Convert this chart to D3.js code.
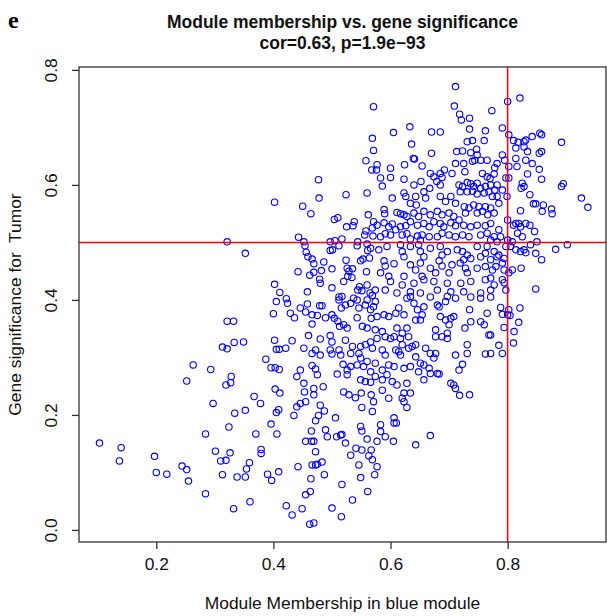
<!DOCTYPE html>
<html><head><meta charset="utf-8">
<script src="https://cdn.jsdelivr.net/npm/d3@7"></script>
<style>body{margin:0;background:#fff}</style>
</head><body>
<script>
const panelLabel = "e";
const titleLines = ["Module membership vs. gene significance", "cor=0.63, p=1.9e\u221293"];
const xTitle = "Module Membership in blue module";
const yTitle = "Gene significance for  Tumor";
const xTicks = [0.2, 0.4, 0.6, 0.8];
const yTicks = [0.0, 0.2, 0.4, 0.6, 0.8];
const xTickLabels = ["0.2", "0.4", "0.6", "0.8"];
const yTickLabels = ["0.0", "0.2", "0.4", "0.6", "0.8"];
const mmThreshold = [0.8];
const gsThreshold = [0.5];
const xLimits = [0.068, 0.968];
const yLimits = [-0.021, 0.805];

// [module membership, gene significance]
const genes = [
[0.402,0.427],[0.411,0.413],[0.405,0.397],[0.400,0.376],[0.321,0.363],[0.332,0.363],[0.402,0.330],[0.349,0.327],[0.333,0.326],[0.313,0.318],[0.321,0.315],[0.405,0.314],[0.410,0.314],[0.387,0.297],[0.263,0.287],[0.293,0.279],[0.396,0.282],[0.403,0.282],[0.410,0.279],[0.328,0.267],[0.327,0.256],[0.319,0.252],[0.252,0.259],[0.403,0.245],[0.411,0.238],[0.367,0.232],[0.378,0.220],[0.297,0.220],[0.334,0.203],[0.352,0.208],[0.405,0.204],[0.409,0.209],[0.324,0.179],[0.396,0.184],[0.284,0.167],[0.370,0.167],[0.406,0.167],[0.103,0.151],[0.140,0.143],[0.137,0.120],[0.197,0.128],[0.200,0.100],[0.218,0.097],[0.244,0.111],[0.252,0.105],[0.255,0.085],[0.284,0.063],[0.301,0.137],[0.310,0.120],[0.319,0.121],[0.326,0.134],[0.379,0.140],[0.379,0.133],[0.359,0.117],[0.354,0.106],[0.313,0.096],[0.338,0.092],[0.352,0.092],[0.390,0.097],[0.397,0.086],[0.409,0.101],[0.360,0.049],[0.332,0.037],
[0.422,0.402],[0.424,0.394],[0.429,0.377],[0.436,0.369],[0.446,0.386],[0.455,0.379],[0.458,0.393],[0.466,0.374],[0.479,0.390],[0.483,0.390],[0.466,0.358],[0.475,0.373],
[0.489,0.369],[0.500,0.374],[0.504,0.368],[0.510,0.363],[0.513,0.354],[0.520,0.357],[0.526,0.351],[0.516,0.386],[0.512,0.400],[0.523,0.391],[0.532,0.394],[0.543,0.400],[0.546,0.386],[0.543,0.369],[0.557,0.391],[0.560,0.400],[0.566,0.383],[0.567,0.368],
[0.552,0.354],[0.560,0.351],[0.460,0.338],[0.480,0.332],[0.497,0.338],[0.500,0.327],[0.523,0.330],[0.432,0.329],[0.421,0.316],
[0.452,0.316],[0.466,0.307],[0.472,0.313],[0.480,0.304],[0.497,0.313],[0.500,0.306],[0.512,0.313],[0.515,0.304],[0.535,0.319],[0.532,0.307],[0.546,0.307],[0.549,0.319],[0.557,0.322],[0.566,0.327],[0.569,0.316],
[0.446,0.278],[0.440,0.267],[0.452,0.255],[0.466,0.286],[0.472,0.280],[0.475,0.270],[0.485,0.249],[0.453,0.240],[0.469,0.235],
[0.509,0.271],[0.519,0.288],[0.526,0.278],[0.526,0.270],[0.532,0.284],[0.543,0.287],[0.549,0.299],[0.554,0.284],[0.560,0.293],[0.566,0.275],[0.549,0.261],[0.557,0.258],[0.566,0.257],
[0.520,0.240],[0.529,0.235],[0.540,0.230],[0.550,0.238],[0.551,0.213],[0.567,0.235],[0.569,0.206],
[0.435,0.199],[0.440,0.214],[0.446,0.220],[0.455,0.223],[0.469,0.246],[0.480,0.217],[0.487,0.207],[0.477,0.199],[0.472,0.190],
[0.465,0.172],[0.465,0.154],[0.455,0.154],[0.469,0.154],[0.489,0.174],[0.492,0.162],[0.506,0.195],[0.508,0.162],[0.515,0.165],[0.517,0.166],[0.523,0.151],[0.549,0.180],[0.551,0.172],[0.560,0.158],[0.541,0.142],[0.551,0.139],[0.567,0.139],[0.532,0.130],
[0.472,0.136],[0.466,0.113],[0.472,0.113],[0.475,0.114],[0.483,0.118],[0.487,0.096],[0.442,0.110],[0.464,0.089],[0.563,0.129],[0.546,0.113],[0.549,0.091],[0.573,0.096],[0.517,0.079],
[0.455,0.061],[0.463,0.067],[0.561,0.067],[0.535,0.052],[0.422,0.042],[0.432,0.026],[0.449,0.037],[0.500,0.038],[0.516,0.023],[0.462,0.010],[0.469,0.012],
[0.571,0.736],[0.569,0.681],[0.571,0.660],[0.558,0.642],[0.568,0.626],[0.477,0.609],[0.478,0.577],[0.524,0.583],[0.560,0.586],[0.402,0.570],[0.450,0.563],[0.464,0.550],[0.562,0.548],[0.504,0.540],[0.510,0.543],[0.525,0.527],[0.538,0.536],[0.536,0.529],[0.558,0.520],[0.556,0.513],[0.569,0.525],[0.570,0.511],[0.443,0.509],[0.452,0.501],[0.454,0.494],[0.497,0.501],[0.505,0.503],[0.517,0.506],[0.512,0.494],[0.501,0.487],[0.497,0.486],[0.544,0.501],[0.543,0.494],[0.560,0.497],[0.561,0.486],[0.566,0.490],[0.564,0.473],[0.456,0.483],[0.459,0.475],[0.466,0.471],[0.469,0.463],[0.486,0.466],[0.442,0.449],[0.462,0.443],[0.469,0.448],[0.482,0.451],[0.500,0.454],[0.524,0.469],[0.526,0.455],[0.529,0.450],[0.535,0.454],[0.549,0.468],[0.553,0.471],[0.559,0.449],[0.479,0.436],[0.480,0.429],[0.520,0.432],[0.527,0.441],[0.534,0.439],[0.458,0.414],[0.500,0.421],[0.544,0.417],[0.547,0.423],[0.551,0.416],[0.560,0.426],[0.565,0.412],[0.512,0.405],[0.517,0.406],[0.537,0.403],[0.569,0.408],
[0.711,0.771],[0.709,0.737],[0.718,0.723],[0.721,0.713],[0.735,0.716],[0.773,0.729],
[0.633,0.701],[0.605,0.691],[0.670,0.692],[0.685,0.692],[0.735,0.697],[0.762,0.694],
[0.636,0.671],[0.670,0.655],[0.731,0.675],[0.740,0.677],[0.760,0.677],
[0.713,0.658],[0.723,0.659],[0.737,0.656],[0.747,0.662],[0.748,0.652],[0.740,0.641],[0.744,0.643],[0.754,0.643],[0.765,0.643],
[0.639,0.646],[0.641,0.645],[0.624,0.635],[0.577,0.635],[0.576,0.626],[0.600,0.629],[0.654,0.633],[0.668,0.620],[0.685,0.620],[0.692,0.626],[0.705,0.620],[0.711,0.637],[0.725,0.637],[0.727,0.623],
[0.583,0.612],[0.586,0.598],[0.600,0.613],[0.623,0.610],[0.640,0.600],[0.652,0.606],[0.674,0.614],[0.679,0.606],[0.688,0.613],[0.685,0.600],[0.757,0.620],[0.765,0.614],[0.770,0.611],[0.777,0.619],
[0.717,0.600],[0.723,0.597],[0.731,0.604],[0.737,0.602],[0.742,0.597],[0.748,0.603],[0.754,0.594],[0.762,0.597],[0.771,0.600],[0.719,0.588],[0.731,0.588],[0.740,0.589],[0.748,0.584],[0.760,0.586],[0.768,0.588],[0.778,0.591],
[0.623,0.586],[0.626,0.580],[0.643,0.580],[0.657,0.588],[0.667,0.594],[0.660,0.577],[0.634,0.568],[0.644,0.565],[0.703,0.580],[0.685,0.580],[0.694,0.571],[0.603,0.577],
[0.711,0.568],[0.726,0.562],[0.734,0.560],[0.742,0.565],[0.751,0.562],[0.762,0.562],[0.771,0.560],[0.728,0.551],[0.748,0.551],[0.757,0.554],[0.766,0.548],[0.777,0.551],
[0.589,0.557],[0.590,0.550],[0.611,0.552],[0.617,0.550],[0.623,0.548],[0.628,0.545],[0.640,0.551],[0.648,0.545],[0.657,0.554],[0.668,0.548],[0.680,0.554],[0.688,0.548],[0.700,0.551],[0.708,0.545],[0.717,0.539],
[0.571,0.536],[0.577,0.530],[0.589,0.534],[0.597,0.527],[0.603,0.532],[0.609,0.522],[0.617,0.527],[0.626,0.529],[0.634,0.536],[0.646,0.530],[0.657,0.533],[0.666,0.527],[0.674,0.536],[0.685,0.533],[0.691,0.527],[0.703,0.534],[0.711,0.529],[0.725,0.530],[0.737,0.527],[0.748,0.530],[0.762,0.529],[0.771,0.533],
[0.583,0.510],[0.591,0.515],[0.600,0.513],[0.620,0.513],[0.628,0.515],[0.634,0.506],[0.646,0.511],[0.651,0.504],[0.654,0.513],[0.666,0.510],[0.680,0.510],[0.688,0.516],[0.700,0.513],[0.711,0.510],[0.723,0.513],[0.734,0.510],[0.754,0.513],[0.765,0.516],[0.777,0.510],
[0.580,0.487],[0.594,0.493],[0.617,0.496],[0.620,0.484],[0.623,0.475],[0.634,0.493],[0.648,0.496],[0.651,0.484],[0.657,0.475],[0.668,0.490],[0.685,0.493],[0.688,0.478],[0.697,0.484],[0.714,0.487],[0.723,0.484],[0.725,0.470],[0.731,0.478],[0.737,0.472],[0.748,0.493],[0.754,0.475],[0.762,0.481],[0.771,0.470],[0.765,0.493],[0.777,0.484],
[0.589,0.468],[0.591,0.459],[0.606,0.463],[0.634,0.461],[0.643,0.452],[0.651,0.464],[0.668,0.455],[0.677,0.447],[0.683,0.468],[0.688,0.459],[0.705,0.461],[0.719,0.464],[0.728,0.455],[0.731,0.447],[0.748,0.455],[0.762,0.458],[0.774,0.452],[0.583,0.447],[0.597,0.441],[0.623,0.441],[0.654,0.441],[0.700,0.447],
[0.600,0.432],[0.620,0.426],[0.640,0.429],[0.657,0.435],[0.674,0.432],[0.697,0.429],[0.720,0.429],[0.737,0.432],[0.762,0.435],[0.574,0.417],[0.591,0.417],[0.611,0.412],[0.634,0.414],[0.651,0.412],[0.680,0.417],[0.703,0.414],[0.725,0.414],[0.754,0.412],[0.771,0.417],[0.628,0.403],[0.668,0.405],[0.697,0.406],[0.737,0.405],[0.771,0.405],
[0.574,0.397],[0.571,0.388],[0.577,0.371],[0.589,0.374],[0.597,0.371],[0.609,0.377],[0.614,0.386],[0.623,0.374],[0.634,0.406],[0.640,0.394],[0.646,0.383],[0.654,0.374],[0.651,0.365],[0.657,0.388],[0.643,0.365],[0.680,0.391],[0.683,0.388],[0.694,0.397],[0.711,0.403],[0.685,0.371],[0.694,0.365],[0.703,0.368],[0.700,0.357],[0.708,0.371],[0.754,0.403],[0.735,0.383],[0.737,0.362],[0.754,0.362],[0.760,0.357],[0.765,0.377],[0.727,0.351],[0.768,0.339],
[0.574,0.348],[0.586,0.345],[0.591,0.336],[0.600,0.333],[0.611,0.351],[0.620,0.342],[0.628,0.351],[0.631,0.336],[0.617,0.333],[0.606,0.336],[0.577,0.333],
[0.677,0.348],[0.677,0.336],[0.697,0.342],[0.697,0.333],[0.688,0.336],[0.731,0.322],[0.731,0.307],[0.762,0.306],[0.711,0.304],[0.723,0.288],[0.717,0.278],[0.703,0.255],[0.708,0.252],[0.711,0.246],[0.718,0.234],[0.735,0.235],
[0.586,0.313],[0.591,0.304],[0.609,0.313],[0.614,0.310],[0.617,0.304],[0.620,0.322],[0.631,0.316],[0.637,0.319],[0.643,0.322],[0.660,0.316],[0.668,0.307],[0.677,0.307],[0.674,0.299],
[0.574,0.290],[0.586,0.278],[0.597,0.287],[0.606,0.284],[0.623,0.281],[0.634,0.284],[0.643,0.301],[0.651,0.290],[0.657,0.287],[0.648,0.275],[0.668,0.272],[0.680,0.272],[0.683,0.271],[0.666,0.281],[0.574,0.267],[0.586,0.261],[0.594,0.270],[0.603,0.258],[0.611,0.252],[0.628,0.255],
[0.657,0.261],[0.623,0.238],[0.634,0.238],[0.620,0.229],[0.623,0.223],[0.628,0.213],[0.597,0.229],[0.586,0.243],[0.571,0.223],
[0.606,0.195],[0.606,0.186],[0.610,0.186],[0.583,0.183],[0.583,0.171],[0.591,0.162],[0.577,0.154],[0.605,0.154],[0.668,0.164],[0.643,0.148],[0.569,0.122],[0.577,0.110],
[0.821,0.751],[0.800,0.745],
[0.791,0.699],[0.802,0.687],[0.810,0.677],[0.818,0.674],[0.828,0.675],[0.831,0.678],[0.842,0.684],[0.855,0.690],[0.858,0.687],[0.892,0.674],[0.814,0.664],[0.828,0.666],[0.834,0.658],[0.854,0.655],[0.858,0.658],
[0.791,0.652],[0.795,0.643],[0.782,0.637],[0.778,0.630],[0.802,0.632],[0.814,0.646],[0.816,0.632],[0.831,0.643],[0.842,0.637],[0.854,0.627],[0.797,0.612],[0.802,0.612],[0.834,0.619],[0.858,0.610],
[0.782,0.600],[0.791,0.591],[0.774,0.580],[0.782,0.580],[0.785,0.568],[0.799,0.580],[0.825,0.603],[0.828,0.597],[0.823,0.594],[0.838,0.583],[0.844,0.567],[0.848,0.567],[0.861,0.565],[0.859,0.554],[0.875,0.558],[0.876,0.550],[0.892,0.597],[0.895,0.602],[0.926,0.577],[0.937,0.561],[0.822,0.555],
[0.800,0.539],[0.810,0.530],[0.814,0.533],[0.819,0.533],[0.822,0.527],[0.831,0.533],[0.838,0.530],[0.846,0.519],[0.817,0.516],[0.825,0.510],[0.808,0.501],[0.800,0.504],[0.785,0.522],[0.788,0.510],[0.782,0.501],[0.797,0.493],[0.805,0.493],[0.814,0.487],[0.822,0.484],[0.828,0.487],[0.831,0.482],[0.839,0.496],[0.850,0.501],[0.848,0.481],[0.882,0.488],[0.902,0.496],[0.858,0.470],
[0.771,0.504],[0.785,0.478],[0.782,0.475],[0.794,0.472],[0.791,0.464],[0.794,0.452],[0.780,0.458],[0.802,0.447],[0.808,0.452],[0.823,0.455],[0.791,0.435],[0.794,0.430],[0.797,0.417],[0.777,0.426],[0.771,0.438],[0.848,0.419],
[0.788,0.387],[0.791,0.375],[0.802,0.383],[0.804,0.373],[0.800,0.374],[0.821,0.386],[0.819,0.361],[0.794,0.352],[0.811,0.345],[0.771,0.339],[0.785,0.321],[0.791,0.307],[0.810,0.325],[0.771,0.307],
[0.321,0.501],[0.352,0.481]
];

const W = 607, H = 616;
const plot = {left: 79, right: 606, top: 67, bottom: 542};
const font = "'Liberation Sans', Arial, Helvetica, sans-serif";

const svg = d3.select("body").append("svg").attr("width", W).attr("height", H);
svg.append("rect").attr("width", W).attr("height", H).attr("fill", "#fff");

const x = d3.scaleLinear().domain(xLimits).range([plot.left, plot.right]);
const y = d3.scaleLinear().domain(yLimits).range([plot.bottom, plot.top]);

// points
svg.append("g").selectAll("circle").data(genes).join("circle")
  .attr("cx", d => x(d[0])).attr("cy", d => y(d[1]))
  .attr("r", 3.2).attr("fill", "none").attr("stroke", "#0000ff").attr("stroke-width", 1.1);

// threshold lines
svg.append("g").selectAll("line").data(gsThreshold).join("line")
  .attr("x1", plot.left).attr("x2", plot.right).attr("y1", d => y(d)).attr("y2", d => y(d))
  .attr("stroke", "#ff0000").attr("stroke-width", 1.5);
svg.append("g").selectAll("line").data(mmThreshold).join("line")
  .attr("y1", plot.top).attr("y2", plot.bottom).attr("x1", d => x(d)).attr("x2", d => x(d))
  .attr("stroke", "#ff0000").attr("stroke-width", 1.5);

// box
svg.append("rect").attr("x", plot.left).attr("y", plot.top)
  .attr("width", plot.right - plot.left).attr("height", plot.bottom - plot.top)
  .attr("fill", "none").attr("stroke", "#333").attr("stroke-width", 1.3);

// x axis
const xAxis = svg.append("g").attr("transform", `translate(0,${plot.bottom})`)
  .call(d3.axisBottom(x).tickValues(xTicks).tickFormat((d, i) => xTickLabels[i]).tickSize(7).tickPadding(9));
xAxis.select(".domain").remove();
xAxis.selectAll("line").attr("stroke", "#333").attr("stroke-width", 1.3);
xAxis.selectAll("text").attr("font-family", font).attr("font-size", 17.4).attr("fill", "#111");

// y axis
const yAxis = svg.append("g").attr("transform", `translate(${plot.left},0)`)
  .call(d3.axisLeft(y).tickValues(yTicks).tickFormat((d, i) => yTickLabels[i]).tickSize(7));
yAxis.select(".domain").remove();
yAxis.selectAll("line").attr("stroke", "#333").attr("stroke-width", 1.3);
yAxis.selectAll("text").attr("font-family", font).attr("font-size", 17.4).attr("fill", "#111")
  .attr("transform", "rotate(-90)").attr("x", 0).attr("y", -22).attr("dy", 0).attr("text-anchor", "middle");

// titles
svg.append("text").attr("x", 8).attr("y", 28).text(panelLabel)
  .attr("font-family", "'Liberation Serif', 'Times New Roman', serif").attr("font-weight", "bold").attr("font-size", 24).attr("fill", "#000");
svg.append("g").selectAll("text").data(titleLines).join("text")
  .attr("x", (plot.left + plot.right) / 2).attr("y", (d, i) => 28 + i * 21)
  .attr("text-anchor", "middle").attr("font-family", font).attr("font-weight", "bold").attr("font-size", 17.5).attr("fill", "#111")
  .text(d => d);
svg.append("text").attr("x", (plot.left + plot.right) / 2).attr("y", 609).attr("text-anchor", "middle")
  .attr("font-family", font).attr("font-size", 17.4).attr("fill", "#111").text(xTitle);
svg.append("text").attr("transform", `translate(21,${(plot.top + plot.bottom) / 2}) rotate(-90)`).attr("text-anchor", "middle")
  .style("white-space", "pre").attr("xml:space", "preserve")
  .attr("font-family", font).attr("font-size", 17.4).attr("fill", "#111").text(yTitle);
</script>
</body></html>
